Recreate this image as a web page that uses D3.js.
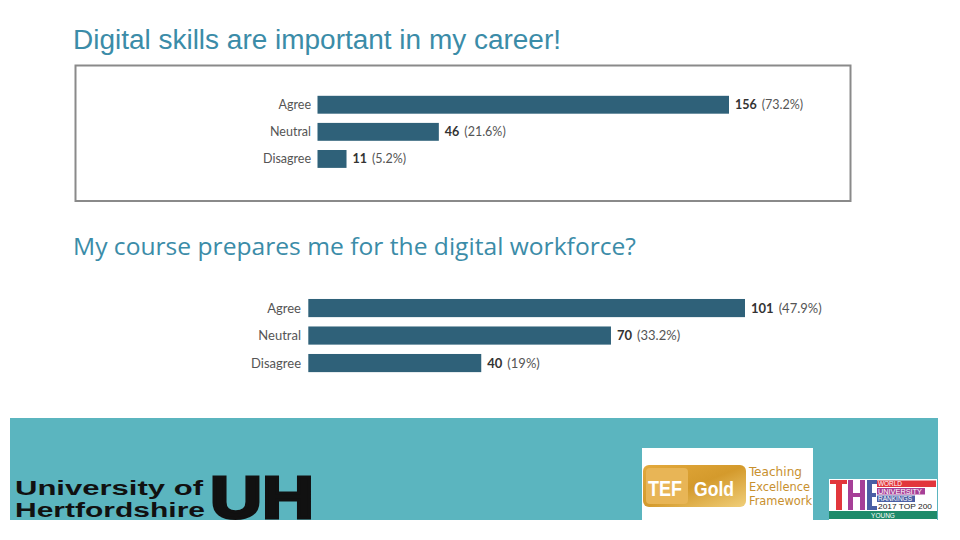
<!DOCTYPE html>
<html>
<head>
<meta charset="utf-8">
<script src="https://cdn.jsdelivr.net/npm/d3@7"></script>
<style>
  html, body { margin: 0; padding: 0; background: #fff; }
  svg { display: block; }
</style>
</head>
<body>
<svg id="chart" width="960" height="540"></svg>
<script>
// ---- data ----
const categories = ["Agree", "Neutral", "Disagree"];
const careerCounts = [156, 46, 11];
const careerPercents = ["73.2", "21.6", "5.2"];
const courseCounts = [101, 70, 40];
const coursePercents = ["47.9", "33.2", "19"];
const title1 = "Digital skills are important in my career!";
const title2 = "My course prepares me for the digital workforce?";

const svg = d3.select("#chart");
const barColor = "#2f6179";
const titleColor = "#3b8ca8";

// ---- titles ----
svg.append("text").attr("x", 73).attr("y", 49)
  .attr("font-family", "Liberation Sans, Arial, sans-serif")
  .attr("font-size", 27).attr("fill", titleColor)
  .attr("textLength", 488).attr("lengthAdjust", "spacingAndGlyphs")
  .text(title1);

svg.append("text").attr("x", 73).attr("y", 255)
  .attr("font-family", "Open Sans, Noto Sans, sans-serif")
  .attr("font-size", 23).attr("fill", titleColor)
  .attr("textLength", 563).attr("lengthAdjust", "spacingAndGlyphs")
  .text(title2);

// ---- chart 1 frame ----
svg.append("rect").attr("x", 75.5).attr("y", 65.5).attr("width", 775).attr("height", 135.5)
  .attr("fill", "#fff").attr("stroke", "#8a8a8a").attr("stroke-width", 2);

function drawBars(counts, percents, xRange, yRange, labelRight, fontSize) {
  const data = categories.map((c, i) => ({ cat: c, n: counts[i], p: percents[i] }));
  const x = d3.scaleLinear().domain([0, d3.max(counts)]).range(xRange);
  const y = d3.scaleBand().domain(categories).range(yRange).paddingInner(0.34).paddingOuter(0.17);
  const g = svg.append("g");
  g.selectAll("rect.bar").data(data).join("rect")
    .attr("class", "bar")
    .attr("x", x(0)).attr("y", d => y(d.cat))
    .attr("width", d => x(d.n) - x(0)).attr("height", y.bandwidth())
    .attr("fill", barColor);
  g.selectAll("text.cat").data(data).join("text")
    .attr("class", "cat")
    .attr("x", labelRight).attr("y", d => y(d.cat) + y.bandwidth() / 2)
    .attr("dy", "0.35em").attr("text-anchor", "end")
    .attr("font-family", "Lato, sans-serif").attr("font-size", fontSize)
    .attr("fill", "#555").text(d => d.cat);
  const vl = g.selectAll("text.val").data(data).join("text")
    .attr("class", "val")
    .attr("x", d => x(d.n) + 6).attr("y", d => y(d.cat) + y.bandwidth() / 2)
    .attr("dy", "0.35em")
    .attr("font-family", "Lato, sans-serif").attr("font-size", fontSize);
  vl.append("tspan").attr("font-weight", "bold").attr("fill", "#333").text(d => d.n);
  vl.append("tspan").attr("dx", 5).attr("fill", "#555").text(d => "(" + d.p + "%)");
}

drawBars(careerCounts, careerPercents, [317.5, 729], [91.2, 172.5], 311, 12.5);
drawBars(courseCounts, coursePercents, [308.3, 745], [294.3, 376.8], 301, 13);

// ---- footer ----
svg.append("rect").attr("x", 10).attr("y", 418).attr("width", 928).attr("height", 102)
  .attr("fill", "#5bb5bf");

// University of Hertfordshire logo
const uh = svg.append("g").attr("font-family", "Liberation Sans, Arial, sans-serif").attr("font-weight", "bold").attr("fill", "#111");
uh.append("text").attr("x", 15).attr("y", 494.5).attr("font-size", 19.5)
  .attr("textLength", 188).attr("lengthAdjust", "spacingAndGlyphs").text("University of");
uh.append("text").attr("x", 15).attr("y", 516.5).attr("font-size", 19.5)
  .attr("textLength", 190).attr("lengthAdjust", "spacingAndGlyphs").text("Hertfordshire");
uh.append("text").attr("x", 210).attr("y", 518).attr("font-size", 59)
  .attr("stroke", "#111").attr("stroke-width", 3)
  .attr("textLength", 104).attr("lengthAdjust", "spacingAndGlyphs").text("UH");

// TEF Gold logo
const tef = svg.append("g");
const grad = svg.append("defs").append("linearGradient").attr("id", "gold").attr("x1", 0).attr("x2", 1).attr("y1", 0).attr("y2", 1);
grad.append("stop").attr("offset", 0).attr("stop-color", "#e3a93c");
grad.append("stop").attr("offset", 0.5).attr("stop-color", "#d49a2c");
grad.append("stop").attr("offset", 1).attr("stop-color", "#f0cf7a");
tef.append("rect").attr("x", 642).attr("y", 448).attr("width", 171).attr("height", 72).attr("fill", "#fff");
tef.append("rect").attr("x", 643).attr("y", 465).attr("width", 103).attr("height", 42).attr("rx", 6).attr("fill", "url(#gold)");
tef.append("rect").attr("x", 646).attr("y", 468).attr("width", 42).attr("height", 36).attr("rx", 4).attr("fill", "#e8b556");
tef.append("text").attr("x", 648).attr("y", 496).attr("font-family", "Liberation Sans, Arial, sans-serif")
  .attr("font-weight", "bold").attr("font-size", 22).attr("fill", "#fff")
  .attr("textLength", 34).attr("lengthAdjust", "spacingAndGlyphs").text("TEF");
tef.append("text").attr("x", 694).attr("y", 496).attr("font-family", "Liberation Sans, Arial, sans-serif")
  .attr("font-weight", "bold").attr("font-size", 20).attr("fill", "#fff")
  .attr("textLength", 40).attr("lengthAdjust", "spacingAndGlyphs").text("Gold");
["Teaching", "Excellence", "Framework"].forEach((t, i) => {
  tef.append("text").attr("x", 749).attr("y", 476 + i * 14.5)
    .attr("font-family", "DejaVu Sans Condensed, Liberation Sans Narrow, sans-serif")
    .attr("font-size", 13).attr("fill", "#c8902e")
    .attr("textLength", i === 0 ? 53 : (i === 1 ? 61 : 63)).attr("lengthAdjust", "spacingAndGlyphs").text(t);
});

// THE rankings logo
const the = svg.append("g").attr("font-family", "Liberation Sans, Arial, sans-serif");
the.append("rect").attr("x", 829).attr("y", 479).attr("width", 108).attr("height", 41).attr("fill", "#fff");
// T
the.append("rect").attr("x", 830).attr("y", 480).attr("width", 17).attr("height", 4).attr("fill", "#e2363c");
the.append("rect").attr("x", 836).attr("y", 480).attr("width", 6).attr("height", 30).attr("fill", "#e2363c");
// H
the.append("rect").attr("x", 848).attr("y", 480).attr("width", 5).attr("height", 30).attr("fill", "#a63f97");
the.append("rect").attr("x", 860).attr("y", 480).attr("width", 5).attr("height", 30).attr("fill", "#a63f97");
the.append("rect").attr("x", 848).attr("y", 493).attr("width", 17).attr("height", 4).attr("fill", "#a63f97");
// E
the.append("rect").attr("x", 867).attr("y", 480).attr("width", 5).attr("height", 30).attr("fill", "#4a5fa5");
the.append("rect").attr("x", 867).attr("y", 480).attr("width", 10).attr("height", 4).attr("fill", "#4a5fa5");
the.append("rect").attr("x", 867).attr("y", 493).attr("width", 9).attr("height", 4).attr("fill", "#4a5fa5");
the.append("rect").attr("x", 867).attr("y", 506).attr("width", 10).attr("height", 4).attr("fill", "#4a5fa5");
const bands = [
  { t: "WORLD", w: 59, c: "#e2363c", tc: "#fff" },
  { t: "UNIVERSITY", w: 48, c: "#a63f97", tc: "#fff" },
  { t: "RANKINGS", w: 38, c: "#4a5fa5", tc: "#fff" },
  { t: "2017 TOP 200", w: 58, c: "#fff", tc: "#222" }
];
bands.forEach((b, i) => {
  the.append("rect").attr("x", 877).attr("y", 480.5 + i * 7.5).attr("width", b.w).attr("height", 6.5).attr("fill", b.c);
  the.append("text").attr("x", 878).attr("y", 486 + i * 7.5).attr("font-size", 6.5).attr("fill", b.tc)
    .attr("textLength", i === 3 ? 54 : (i === 0 ? 24 : b.w - 4)).attr("lengthAdjust", "spacingAndGlyphs").text(b.t);
});
the.append("rect").attr("x", 829).attr("y", 511).attr("width", 108).attr("height", 8).attr("fill", "#1e8a6a");
the.append("text").attr("x", 883).attr("y", 518).attr("text-anchor", "middle").attr("font-size", 6.5).attr("fill", "#fff").text("YOUNG");
</script>
</body>
</html>
